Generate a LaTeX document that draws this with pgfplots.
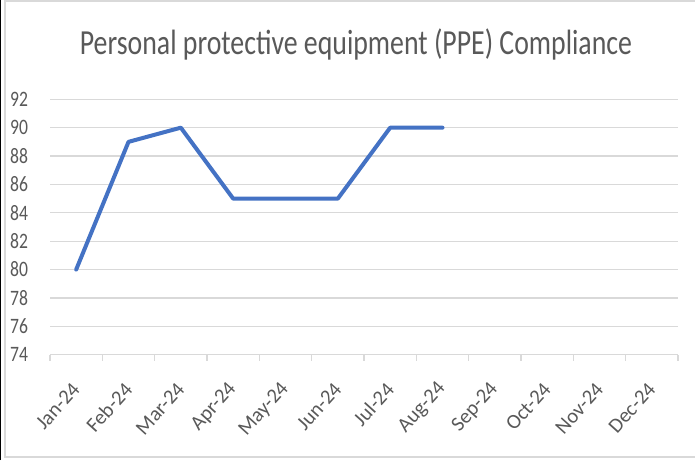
\documentclass[border=0pt]{standalone}
\usepackage{pgfplots}
\pgfplotsset{compat=1.18}
\usepackage{fontspec}
\setmainfont{Carlito}
\newfontfamily\titlefont[FakeStretch=0.79]{Carlito}
\newfontfamily\tickfont[FakeStretch=0.8]{Carlito}
\definecolor{lineblue}{HTML}{4472C4}
\definecolor{gridgray}{HTML}{D9D9D9}
\definecolor{textgray}{HTML}{595959}
\begin{document}
\begin{tikzpicture}
\useasboundingbox (0,0) rectangle (521.25pt,345pt);
\fill[white] (0,0) rectangle (521.25pt,345pt);
\draw[gridgray, line width=1pt] (3.75pt,2.25pt) rectangle (523pt,344.25pt);
\draw[black, line width=1.2pt] (0.4pt,0) -- (0.4pt,345pt);
\node[anchor=base, text=textgray, font=\titlefont\fontsize{26.4}{30}\selectfont] at (267pt,303.75pt) {Personal protective equipment (PPE) Compliance};
\begin{axis}[
  at={(37.5pt,78.98pt)}, anchor=south west,
  scale only axis, width=471pt, height=191.55pt,
  xmin=-0.5, xmax=11.5, ymin=74, ymax=92,
  ytick={74,76,...,92},
  xtick={0,...,11},
  xticklabels={Jan-24,Feb-24,Mar-24,Apr-24,May-24,Jun-24,Jul-24,Aug-24,Sep-24,Oct-24,Nov-24,Dec-24},
  minor xtick={-0.5,0.5,...,11.5},
  major x tick style={draw=none},
  minor x tick style={draw=gridgray, line width=0.9pt},
  minor tick length=4.5pt,
  tick align=outside,
  ytick style={draw=none},
  axis x line*=bottom, axis y line*=left,
  x axis line style={draw=gridgray, line width=0.9pt, -},
  y axis line style={draw=none},
  ymajorgrids, grid style={draw=gridgray, line width=0.9pt},
  /pgf/number format/assume math mode=true,
  yticklabel style={font=\tickfont\fontsize{16.5}{18}\selectfont, text=textgray, anchor=east, inner sep=0pt, xshift=-12pt},
  xticklabel style={font=\fontsize{15.5}{17}\selectfont, text=textgray, yshift=-19pt, rotate=48, anchor=east, inner sep=0pt},
  clip=false,
]
\addplot[color=lineblue, line width=3pt, line join=round, line cap=round] coordinates {
  (0,80) (1,89) (2,90) (3,85) (4,85) (5,85) (6,90) (7,90)
};
\end{axis}
\end{tikzpicture}
\end{document}
